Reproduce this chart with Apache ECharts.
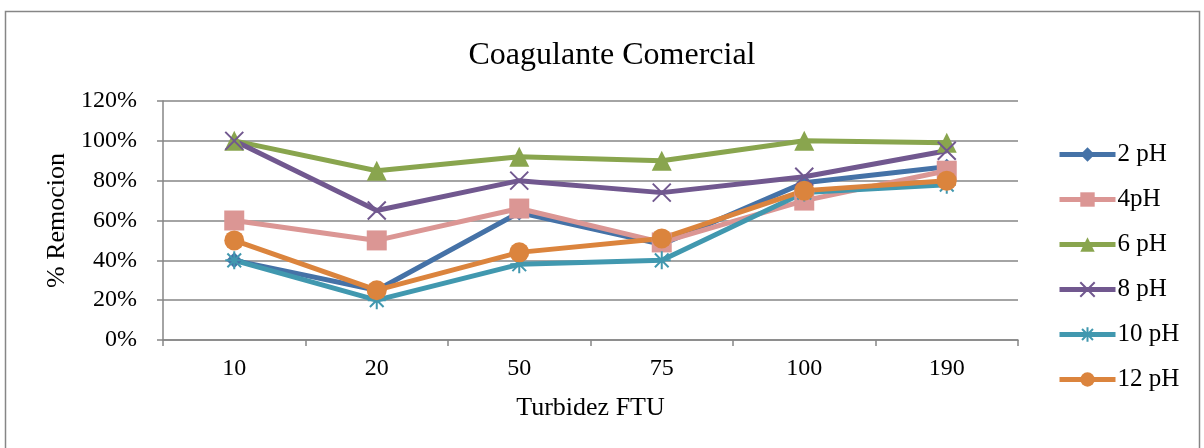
<!DOCTYPE html>
<html>
<head>
<meta charset="utf-8">
<script src="https://cdn.jsdelivr.net/npm/echarts@6/dist/echarts.min.js"></script>
<style>
  html, body { margin: 0; padding: 0; background: #fff; }
  #chart { width: 1204px; height: 448px; }
</style>
</head>
<body>
<div id="chart"></div>
<script>
// Turbidity levels (FTU) on the category axis
const categories = ['10', '20', '50', '75', '100', '190'];

// % removal per pH
const ph2  = [40, 25, 64, 48, 79, 87];
const ph4  = [60, 50, 66, 49, 70, 85];
const ph6  = [100, 85, 92, 90, 100, 99];
const ph8  = [100, 65, 80, 74, 82, 95];
const ph10 = [40, 20, 38, 40, 74, 78];
const ph12 = [50, 25, 44, 51, 75, 80];

const yTicks = { min: 0, max: 120, step: 20 };

const FONT = '"Liberation Serif", "Times New Roman", serif';

const crossPath = 'path://M0,0L10,10M10,0L0,10';
const starPath = 'path://M5,0L5,10M0,5L10,5M1.2,1.2L8.8,8.8M8.8,1.2L1.2,8.8';

function mkSeries(name, data, color, symbol, size, stroked) {
  return {
    name: name,
    type: 'line',
    data: data,
    symbol: symbol,
    symbolSize: size,
    lineStyle: { color: color, width: 5 },
    itemStyle: stroked
      ? { color: 'rgba(0,0,0,0)', borderColor: color, borderWidth: 2 }
      : { color: color, borderWidth: 0 },
    emphasis: { disabled: true }
  };
}

const chart = echarts.init(document.getElementById('chart'), null, { renderer: 'canvas' });
chart.setOption({
  animation: false,
  backgroundColor: '#ffffff',
  graphic: [{
    type: 'rect',
    shape: { x: 5.5, y: 11.5, width: 1194, height: 460 },
    style: { fill: 'none', stroke: '#868686', lineWidth: 1.5 },
    silent: true
  }],
  title: {
    text: 'Coagulante Comercial',
    left: 607, top: 35, textAlign: 'center',
    textStyle: { fontFamily: FONT, fontSize: 32, fontWeight: 'normal', color: '#000' }
  },
  legend: {
    orient: 'vertical',
    left: 1052, top: 137,
    itemWidth: 56, itemHeight: 18, itemGap: 20,
    lineStyle: { width: 5 },
    textStyle: { fontFamily: FONT, fontSize: 25, color: '#000', padding: [0, 0, 0, -3] },
    data: ['2 pH', '4pH', '6 pH', '8 pH', '10 pH', '12 pH']
  },
  grid: { left: 163, right: 186, top: 101, bottom: 108 },
  xAxis: {
    type: 'category',
    data: categories,
    boundaryGap: true,
    name: 'Turbidez FTU',
    nameLocation: 'middle',
    nameGap: 55,
    nameTextStyle: { fontFamily: FONT, fontSize: 26, color: '#000' },
    axisLine: { lineStyle: { color: '#868686', width: 1.5 } },
    axisTick: { show: true, length: 6, lineStyle: { color: '#868686', width: 1.5 } },
    axisLabel: { fontFamily: FONT, fontSize: 24, color: '#000', margin: 17 }
  },
  yAxis: {
    type: 'value',
    min: yTicks.min, max: yTicks.max, interval: yTicks.step,
    name: '% Remocion',
    nameLocation: 'middle',
    nameGap: 90,
    nameTextStyle: { fontFamily: FONT, fontSize: 26, color: '#000' },
    axisLine: { show: true, lineStyle: { color: '#868686', width: 1.5 } },
    axisTick: { show: true, length: 6, lineStyle: { color: '#868686', width: 1.5 } },
    splitLine: { lineStyle: { color: '#868686', width: 1.5 } },
    axisLabel: { fontFamily: FONT, fontSize: 24, color: '#000', margin: 26, formatter: '{value}%' }
  },
  series: [
    mkSeries('2 pH', ph2, '#4572A7', 'diamond', 16, false),
    mkSeries('4pH', ph4, '#DB9694', 'rect', 20, false),
    mkSeries('6 pH', ph6, '#89A54E', 'triangle', 20, false),
    mkSeries('8 pH', ph8, '#71588F', crossPath, 18, true),
    mkSeries('10 pH', ph10, '#4198AF', starPath, 18, true),
    mkSeries('12 pH', ph12, '#DB843D', 'circle', 20, false)
  ]
});
</script>
</body>
</html>
